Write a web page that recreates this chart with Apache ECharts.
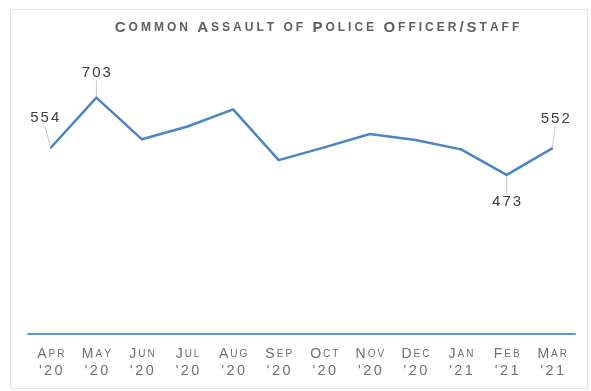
<!DOCTYPE html>
<html>
<head>
<meta charset="utf-8">
<script src="https://cdn.jsdelivr.net/npm/echarts@6/dist/echarts.min.js"></script>
<style>
html,body{margin:0;padding:0;background:#fff;}
#c{width:591px;height:391px;}
</style>
</head>
<body>
<div id="c"></div>
<script>
const titleText = "Common Assault of Police Officer/Staff";
const months = ["Apr","May","Jun","Jul","Aug","Sep","Oct","Nov","Dec","Jan","Feb","Mar"];
const years = ["'20","'20","'20","'20","'20","'20","'20","'20","'20","'21","'21","'21"];
const values = [554, 703, 579, 617, 668, 517, 555, 595, 577, 549, 473, 552];
const labelled = [0, 1, 10, 11];

const categories = months.map((m, i) => m + " " + years[i]);

// small-caps with letter spacing: each glyph is its own rich token
function spaced(str, bigToken, smallToken) {
  let out = "";
  for (const ch of str) {
    const isUpper = ch !== ch.toLowerCase() || ch === "/" ;
    const tok = (isUpper && bigToken) ? bigToken : smallToken;
    out += "{" + tok + "|" + ch.toUpperCase() + "}";
  }
  return out;
}

const FONT = 'Liberation Sans';
const GRAY = '#5f5f5f';
const LINE = '#4a86c5';

const chart = echarts.init(document.getElementById('c'), null, {renderer: 'canvas'});
const option = {
  backgroundColor: '#ffffff',
  animation: false,
  graphic: [{
    type: 'rect',
    shape: {x: 10.5, y: 9.5, width: 577, height: 379},
    style: {fill: 'none', stroke: '#e3e3e3', lineWidth: 1},
    silent: true,
    z: -1
  }],
  title: {
    text: spaced(titleText, "b", "s"),
    left: 312,
    top: 15,
    textAlign: 'center',
    textStyle: {
      rich: {
        b: {fontFamily: FONT, fontWeight: 'bold', fontSize: 15, color: GRAY, padding: [0, 1.5, 0, 1.5]},
        s: {fontFamily: FONT, fontWeight: 'bold', fontSize: 12, color: GRAY, padding: [0, 1.5, 0, 1.5]}
      }
    }
  },
  grid: {left: 28, right: 16, top: 65, bottom: 57},
  xAxis: {
    type: 'category',
    data: categories,
    boundaryGap: true,
    axisLine: {show: true, lineStyle: {color: '#5b9bd5', width: 2}},
    axisTick: {show: false},
    splitLine: {show: false},
    axisLabel: {
      interval: 0,
      margin: 11.5,
      formatter: function (v) {
        const sp = v.split(" ");
        return spaced(sp[0], "b", "s") + "\n" + spaced(sp[1], null, "n");
      },
      rich: {
        b: {fontFamily: FONT, fontSize: 14, color: '#707070', lineHeight: 17, padding: [0, 1, 0, 1]},
        s: {fontFamily: FONT, fontSize: 10, color: '#707070', lineHeight: 17, padding: [0, 1, 0, 1]},
        n: {fontFamily: FONT, fontSize: 14.5, color: '#707070', lineHeight: 17, padding: [0, 1.2, 0, 1.2]}
      }
    }
  },
  yAxis: {
    type: 'value',
    min: 0,
    max: 800,
    show: false,
    splitLine: {show: false}
  },
  series: [{
    type: 'line',
    data: values.map((v, i) => {
      const item = {value: v};
      if (labelled.indexOf(i) >= 0) {
        item.label = {show: true, position: i === 10 ? 'bottom' : 'top', distance: 5};
      }
      return item;
    }),
    symbol: 'circle',
    symbolSize: 2,
    showSymbol: true,
    itemStyle: {color: LINE},
    lineStyle: {color: LINE, width: 2.5},
    label: {
      show: false,
      formatter: function (p) { return spaced(String(p.value), null, "d"); },
      rich: {
        d: {fontFamily: FONT, fontSize: 15, color: '#404040', padding: [0, 1, 0, 1]}
      }
    },
    labelLine: {show: true, lineStyle: {color: '#c8c8c8', width: 1}},
    labelLayout: function (p) {
      const i = p.dataIndex;
      if (i === 0) return {dx: -6, dy: -16};
      if (i === 1) return {dy: -11};
      if (i === 10) return {dy: 13};
      if (i === 11) return {dx: 3, dy: -16};
      return {};
    }
  }]
};
chart.setOption(option);
</script>
</body>
</html>
